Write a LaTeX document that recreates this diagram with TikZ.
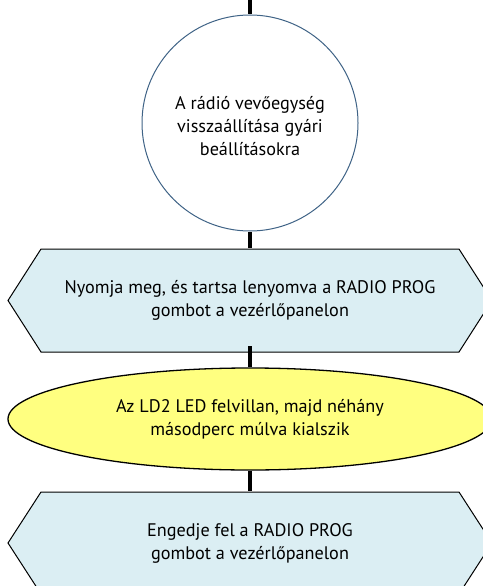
\documentclass[tikz,border=0pt]{standalone}
\usepackage{fontspec}
\setmainfont{PT Sans}
\usetikzlibrary{shapes.geometric}
\definecolor{hexfill}{HTML}{DBEEF3}
\definecolor{ellfill}{HTML}{FFFF80}
\definecolor{circline}{HTML}{3F6386}
\tikzset{
  lbl/.style={font=\fontsize{18.2bp}{23bp}\selectfont, align=center, text=black},
  conn/.style={line width=4bp, draw=black},
  hexbox/.style={draw=none, minimum width=484bp, minimum height=103bp, inner sep=0pt},
  hexline/.style={draw=black, fill=hexfill, line width=1bp},
}
\begin{document}
\begin{tikzpicture}[x=1bp,y=-1bp]
\useasboundingbox (0,0) rectangle (483,586);
\clip (0,0) rectangle (483,586);
% top free end
\coordinate (start) at (250,0);
% circle
\node[circle, draw=circline, fill=white, line width=1bp, minimum size=216bp, inner sep=0pt] (circ) at (250,123) {};
\node[lbl] (circtxt) at (250,126) {A rádió vevőegység\\visszaállítása gyári\\beállításokra};
% hexagon 1
\node[hexbox] (hex1) at (250,300.5) {};
\draw[hexline] (8,300.5) -- (41,249) -- (459,249) -- (492,300.5) -- (459,352) -- (41,352) -- cycle;
\node[lbl] (hex1txt) at (250,300.5) {Nyomja meg, és tartsa lenyomva a RADIO PROG\\gombot a vezérlőpanelon};
% ellipse
\node[ellipse, draw=black, fill=ellfill, line width=1.3bp, minimum width=484bp, minimum height=102bp, inner sep=0pt] (ell) at (250,419) {};
\node[lbl] (elltxt) at (250,419) {Az LD2 LED felvillan, majd néhány\\másodperc múlva kialszik};
% hexagon 2
\node[hexbox] (hex2) at (250,543) {};
\draw[hexline] (8,543) -- (41,492) -- (459,492) -- (492,543) -- (459,594) -- (41,594) -- cycle;
\node[lbl] (hex2txt) at (250,543) {Engedje fel a RADIO PROG\\gombot a vezérlőpanelon};
% connectors
\draw[conn] (start) -- (circ.north);
\draw[conn] (circ.south) -- ([yshift=1bp]hex1.north);
\draw[conn] ([yshift=6bp]hex1.south) -- (ell.north);
\draw[conn] (ell.south) -- (hex2.north);
\end{tikzpicture}
\end{document}
